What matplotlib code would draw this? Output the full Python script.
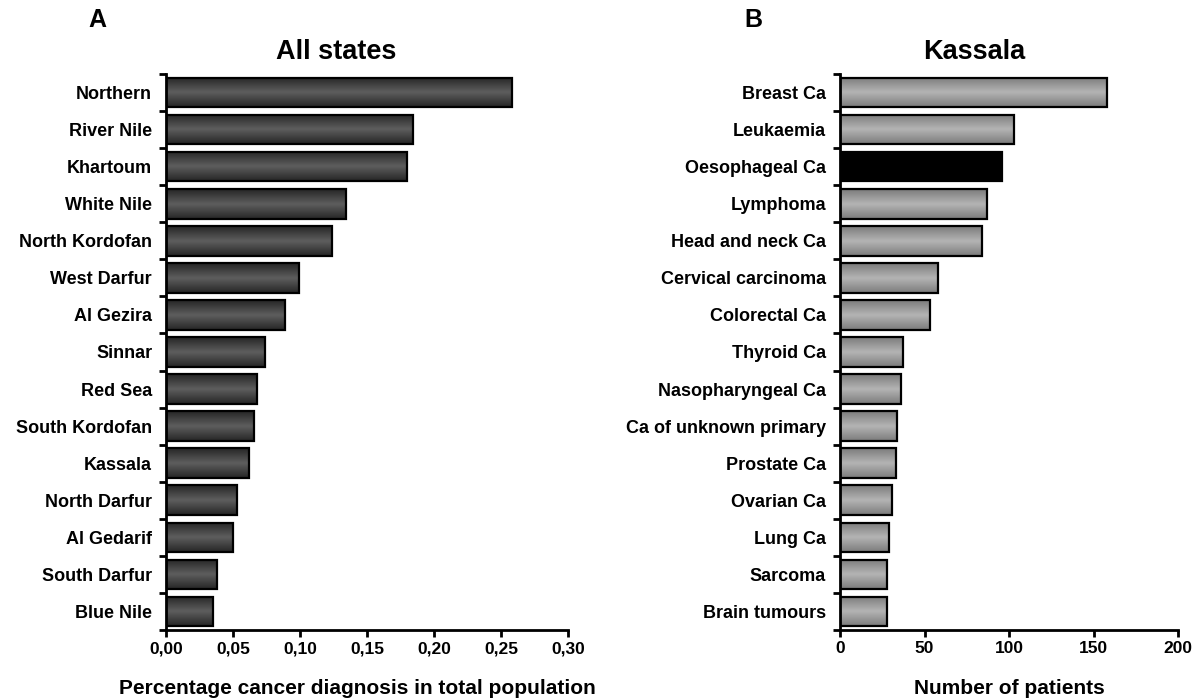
import numpy as np
import matplotlib
matplotlib.use("Agg")
import matplotlib.pyplot as plt
from matplotlib.colors import LinearSegmentedColormap

plt.rcParams['font.family'] = ['Liberation Sans', 'DejaVu Sans']
plt.rcParams['font.weight'] = 'bold'

# panel A: all states
states = ["Northern", "River Nile", "Khartoum", "White Nile", "North Kordofan",
          "West Darfur", "Al Gezira", "Sinnar", "Red Sea", "South Kordofan",
          "Kassala", "North Darfur", "Al Gedarif", "South Darfur", "Blue Nile"]
state_pct = [0.258, 0.184, 0.180, 0.134, 0.124, 0.099, 0.089, 0.074, 0.068,
             0.066, 0.062, 0.053, 0.050, 0.038, 0.035]

# panel B: Kassala
cancers = ["Breast Ca", "Leukaemia", "Oesophageal Ca", "Lymphoma", "Head and neck Ca",
           "Cervical carcinoma", "Colorectal Ca", "Thyroid Ca", "Nasopharyngeal Ca",
           "Ca of unknown primary", "Prostate Ca", "Ovarian Ca", "Lung Ca",
           "Sarcoma", "Brain tumours"]
patients = [158, 103, 96, 87, 84, 58, 53, 37, 36, 34, 33, 31, 29, 28, 28]
highlight = "Oesophageal Ca"

W, H = 1202, 698
fig = plt.figure(figsize=(W / 100, H / 100), dpi=100)


def px_axes(x0, x1, y0, y1):
    return fig.add_axes([x0 / W, 1 - y1 / H, (x1 - x0) / W, (y1 - y0) / H])


dark_cmap = LinearSegmentedColormap.from_list("dark", ["#262626", "#5e5e5e", "#262626"])
light_cmap = LinearSegmentedColormap.from_list("light", ["#7c7c7c", "#b4b4b4", "#7c7c7c"])


def shaded_bars(ax, labels, values, cmap, solid=None):
    y = np.arange(len(labels))
    bars = ax.barh(y, values, height=0.8, edgecolor="black", linewidth=1.6,
                   facecolor="none", zorder=3)
    grad = np.linspace(0, 1, 64).reshape(-1, 1)
    for lab, b in zip(labels, bars):
        x0, yb = b.get_x(), b.get_y()
        if solid is not None and lab == solid:
            b.set_facecolor("black")
            continue
        im = ax.imshow(grad, extent=[x0, x0 + b.get_width(), yb, yb + b.get_height()],
                       aspect="auto", cmap=cmap, zorder=2, interpolation="bicubic")
        im.set_clip_path(b)
    ax.set_yticks(y)
    ax.set_yticklabels(labels, fontsize=13, fontweight="bold")
    ax.set_yticks(np.arange(len(labels) + 1) - 0.5, minor=True)
    ax.set_ylim(len(labels) - 0.5, -0.5)
    ax.tick_params(axis="y", which="major", length=0, pad=10)
    ax.tick_params(axis="y", which="minor", length=5, width=2, direction="out")
    ax.tick_params(axis="x", length=5, width=2, direction="out", labelsize=12.5, pad=3)
    for s in ["top", "right"]:
        ax.spines[s].set_visible(False)
    for s in ["left", "bottom"]:
        ax.spines[s].set_linewidth(2)


axA = px_axes(166, 568, 74, 630)
shaded_bars(axA, states, state_pct, dark_cmap)
axA.set_xlim(0, 0.30)
axA.set_xticks(np.arange(0, 0.31, 0.05))
axA.set_xticklabels([f"{v:.2f}".replace(".", ",") for v in np.arange(0, 0.31, 0.05)],
                    fontweight="bold")

axB = px_axes(840, 1178, 74, 630)
shaded_bars(axB, cancers, patients, light_cmap, solid=highlight)
axB.set_xlim(0, 200)
axB.set_xticks([0, 50, 100, 150, 200])
axB.set_xticklabels(["0", "50", "100", "150", "200"], fontweight="bold")

fig.text(336 / W, 1 - 52 / H, "All states", ha="center", va="center",
         fontsize=19.5, fontweight="bold")
fig.text(974 / W, 1 - 52 / H, "Kassala", ha="center", va="center",
         fontsize=19.5, fontweight="bold")
fig.text(97 / W, 1 - 20 / H, "A", ha="center", va="center", fontsize=18, fontweight="bold")
fig.text(753 / W, 1 - 20 / H, "B", ha="center", va="center", fontsize=18, fontweight="bold")
fig.text(357 / W, 1 - 688 / H, "Percentage cancer diagnosis in total population",
         ha="center", va="center", fontsize=15, fontweight="bold")
fig.text(1009 / W, 1 - 688 / H, "Number of patients",
         ha="center", va="center", fontsize=15, fontweight="bold")

fig.savefig("out.png", dpi=100)
